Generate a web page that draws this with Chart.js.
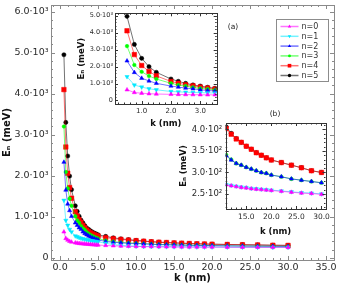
<!DOCTYPE html>
<html>
<head>
<meta charset="utf-8">
<script src="https://cdn.jsdelivr.net/npm/chart.js@4.4.1/dist/chart.umd.min.js"></script>
<style>
  html, body { margin: 0; padding: 0; background: #fff; }
  #wrap { position: relative; width: 349px; height: 287px; overflow: hidden; }
  #wrap canvas { position: absolute; }
</style>
</head>
<body>
<div id="wrap">
  <canvas id="mainChart" width="349" height="287" style="left:0;top:0"></canvas>
  <canvas id="insetA" width="152" height="126" style="left:70px;top:5px"></canvas>
  <canvas id="insetB" width="152" height="128" style="left:178px;top:110px"></canvas>
</div>
<script>
// wave number k (nm) shared by all series
const kValues = [0.5, 0.75, 1.0, 1.25, 1.5, 2.0, 2.25, 2.5, 2.75, 3.0, 3.25, 3.5, 3.75, 4.0, 4.25, 4.5, 4.75, 5.0,
    6, 7, 8, 9, 10, 11, 12, 13, 14, 15, 16, 17, 18, 19, 20, 22, 24, 26, 28, 30];

// E_n (meV) for each n
const energyN0 = [630, 470, 430, 400, 382, 362, 355, 348, 343, 338, 334, 330, 326, 322, 318, 314, 311, 308,
    298, 290, 283, 277, 274, 271, 269, 267, 265, 264, 262, 261, 260, 259, 258, 256, 254, 252, 251, 249];
const energyN1 = [1400, 910, 790, 690, 630, 530, 510, 490, 475, 462, 450, 440, 430, 420, 412, 404, 397, 390,
    350, 320, 300, 287, 278, 272, 270, 268, 266, 265, 263, 262, 261, 260, 259, 257, 255, 253, 252, 250];
const energyN2 = [2330, 1650, 1310, 1150, 1010, 850, 790, 730, 690, 630, 590, 560, 530, 505, 485, 465, 448, 435,
    395, 375, 362, 353, 346, 339, 329, 321, 317, 312, 308, 304, 300, 298, 294, 290, 285, 282, 279, 276];
const energyN3 = [3200, 2090, 1690, 1440, 1265, 1010, 910, 850, 775, 715, 675, 620, 585, 555, 530, 505, 485, 465,
    420, 392, 372, 359, 350, 341, 330, 321, 317, 312, 308, 304, 300, 298, 294, 290, 285, 282, 279, 276];
const energyN4 = [4100, 2700, 2060, 1710, 1450, 1120, 1020, 925, 865, 790, 730, 675, 640, 610, 585, 562, 543, 527,
    490, 465, 446, 430, 416, 402, 389, 378, 370, 361, 354, 346, 340, 334, 329, 323, 317, 311, 304, 300];
const energyN5 = [4950, 3300, 2480, 1990, 1660, 1265, 1130, 1010, 915, 850, 780, 720, 690, 655, 625, 600, 580, 560,
    520, 485, 460, 440, 422, 406, 391, 379, 370, 361, 354, 346, 340, 334, 329, 323, 317, 311, 304, 300];

const seriesNames = ['n=0', 'n=1', 'n=2', 'n=3', 'n=4', 'n=5'];
const seriesValues = [energyN0, energyN1, energyN2, energyN3, energyN4, energyN5];

// tick labels
const mainXTicks = [0, 5, 10, 15, 20, 25, 30, 35];
const mainYTicks = [0, 1000, 2000, 3000, 4000, 5000, 6000];
const insetAXTicks = [1, 2, 3];
const insetAYTicks = [0, 1000, 2000, 3000, 4000, 5000];
const insetBXTicks = [15, 20, 25, 30];
const insetBYTicks = [250, 300, 350, 400];

const FONT = '"DejaVu Sans", sans-serif';
const markerColors = ['#ff00ff', '#00e8ff', '#0000ff', '#00ff00', '#ff0000', '#000000'];
const lineColors = ['rgba(255,0,255,0.55)', 'rgba(0,232,255,0.55)', 'rgba(0,0,255,0.55)',
    'rgba(0,255,0,0.55)', 'rgba(255,0,0,0.55)', 'rgba(0,0,0,0.55)'];
const markerStyles = ['triangle', 'triangle', 'triangle', 'circle', 'rect', 'circle'];
const markerRotations = [0, 180, 0, 0, 0, 0];
const markerSizes = [2.4, 2.4, 2.4, 1.8, 3.2, 2.1];

const SUP = { 2: '²', 3: '³' };

function sciLabel(exp) {
    return v => v === 0 ? '0' : (v / Math.pow(10, exp)).toFixed(1) + '·10' + SUP[exp];
}

function buildDatasets() {
    return seriesValues.map((vals, i) => ({
        label: seriesNames[i],
        data: kValues.map((k, j) => ({ x: k, y: vals[j] })),
        borderColor: lineColors[i],
        borderWidth: 1,
        backgroundColor: markerColors[i],
        pointBackgroundColor: markerColors[i],
        pointBorderColor: markerColors[i],
        pointBorderWidth: 0.5,
        pointStyle: markerStyles[i],
        pointRotation: markerRotations[i],
        pointRadius: markerSizes[i],
        tension: 0
    }));
}

// inward ticks on all four sides + frame + white plot background
const frameTicks = {
    id: 'frameTicks',
    beforeDraw(chart) {
        const { ctx, chartArea: a } = chart;
        ctx.save();
        ctx.fillStyle = '#fff';
        ctx.fillRect(a.left, a.top, a.right - a.left, a.bottom - a.top);
        ctx.restore();
    },
    afterDraw(chart, args, opts) {
        const { ctx, chartArea: a, scales } = chart;
        const xs = scales.x, ys = scales.y;
        ctx.save();
        ctx.strokeStyle = opts.color;
        ctx.lineWidth = 1;
        ctx.beginPath();

        const stepValues = (scale, step) => {
            const out = [];
            const first = Math.ceil(scale.min / step - 1e-9);
            for (let i = first; i * step <= scale.max + 1e-9; i++) out.push(i * step);
            return out;
        };
        const xMarks = (vals, len) => vals.forEach(v => {
            const px = Math.round(xs.getPixelForValue(v)) + 0.5;
            ctx.moveTo(px, a.bottom); ctx.lineTo(px, a.bottom - len);
            ctx.moveTo(px, a.top); ctx.lineTo(px, a.top + len);
        });
        const yMarks = (vals, len) => vals.forEach(v => {
            const py = Math.round(ys.getPixelForValue(v)) + 0.5;
            ctx.moveTo(a.left, py); ctx.lineTo(a.left + len, py);
            ctx.moveTo(a.right, py); ctx.lineTo(a.right - len, py);
        });
        xMarks(stepValues(xs, opts.xMinor), opts.minorLen);
        yMarks(stepValues(ys, opts.yMinor), opts.minorLen);
        xMarks(xs.ticks.map(t => t.value), opts.majorLen);
        yMarks(ys.ticks.map(t => t.value), opts.majorLen);
        ctx.stroke();

        ctx.strokeRect(Math.round(a.left) + 0.5, Math.round(a.top) + 0.5,
            Math.round(a.right - a.left), Math.round(a.bottom - a.top));
        ctx.restore();
    }
};

// legend box and panel tags drawn on the main chart
const legendBox = {
    id: 'legendBox',
    afterDraw(chart) {
        const ctx = chart.ctx;
        ctx.save();
        ctx.fillStyle = '#fff';
        ctx.strokeStyle = '#8c8c8c';
        ctx.lineWidth = 1;
        ctx.fillRect(276.5, 19.5, 52, 62);
        ctx.strokeRect(276.5, 19.5, 52, 62);
        ctx.font = '8px ' + FONT;
        ctx.textBaseline = 'middle';
        seriesNames.forEach((name, i) => {
            const y = 26.5 + i * 9.8;
            ctx.strokeStyle = lineColors[i];
            ctx.lineWidth = 1.5;
            ctx.beginPath();
            ctx.moveTo(280.5, y); ctx.lineTo(298.5, y);
            ctx.stroke();
            ctx.fillStyle = markerColors[i];
            ctx.strokeStyle = markerColors[i];
            Chart.helpers.drawPoint(ctx, {
                pointStyle: markerStyles[i], rotation: markerRotations[i],
                radius: markerSizes[i] * 0.8, borderWidth: 0
            }, 289.5, y);
            ctx.fillStyle = '#333';
            ctx.fillText(name, 301.5, y + 0.5);
        });
        ctx.fillStyle = '#222';
        ctx.font = '7.5px ' + FONT;
        ctx.textAlign = 'center';
        ctx.fillText('(a)', 233, 27);
        ctx.fillText('(b)', 275, 114);
        ctx.restore();
    }
};

function linearAxis(cfg) {
    const isX = cfg.axis === 'x';
    return {
        type: 'linear',
        position: isX ? 'bottom' : 'left',
        min: cfg.min,
        max: cfg.max,
        grid: { display: false, drawTicks: false, tickLength: 0 },
        border: { display: false },
        afterBuildTicks: scale => { scale.ticks = cfg.ticks.map(v => ({ value: v })); },
        afterFit: scale => {
            if (isX) scale.height = cfg.size; else scale.width = cfg.size;
            scale.paddingLeft = scale.paddingRight = scale.paddingTop = scale.paddingBottom = 0;
        },
        ticks: {
            autoSkip: false,
            maxRotation: 0,
            padding: cfg.tickPad,
            color: '#2a2a2a',
            font: { family: FONT, size: cfg.tickSize },
            callback: cfg.format
        },
        title: {
            display: true,
            text: cfg.title,
            color: '#111',
            padding: cfg.titlePad,
            font: { family: FONT, size: cfg.titleSize, weight: 'bold' }
        }
    };
}

function makeChart(id, pad, xCfg, yCfg, tickOpts, extraPlugins) {
    return new Chart(document.getElementById(id), {
        type: 'line',
        data: { datasets: buildDatasets() },
        options: {
            responsive: false,
            animation: false,
            devicePixelRatio: 1,
            layout: { padding: pad },
            plugins: {
                legend: { display: false },
                tooltip: { enabled: false },
                frameTicks: tickOpts
            },
            scales: {
                x: linearAxis(Object.assign({ axis: 'x' }, xCfg)),
                y: linearAxis(Object.assign({ axis: 'y' }, yCfg))
            }
        },
        plugins: [frameTicks].concat(extraPlugins || [])
    });
}

const xFmt = v => v.toFixed(1);

makeChart('mainChart', { top: 5, right: 15, left: 0, bottom: 0 },
    { min: -1.2, max: 36.05, ticks: mainXTicks, format: xFmt, tickSize: 9.5, tickPad: 1.5,
      title: 'k (nm)', titleSize: 10, titlePad: { bottom: 3 }, size: 27 },
    { min: -56, max: 6163, ticks: mainYTicks, format: sciLabel(3), tickSize: 9.5, tickPad: 2.5,
      title: 'Eₙ (meV)', titleSize: 10, titlePad: { top: 1 }, size: 51 },
    { color: '#8a8a8a', majorLen: 4, minorLen: 2, xMinor: 1, yMinor: 200 },
    [legendBox]);

makeChart('insetA', { top: 8.3, right: 5.3, left: 0, bottom: 0 },
    { min: 0.09, max: 3.56, ticks: insetAXTicks, format: xFmt, tickSize: 7, tickPad: 3,
      title: 'k (nm)', titleSize: 8.5, titlePad: { bottom: 2.5 }, size: 27 },
    { min: -206, max: 5130, ticks: insetAYTicks, format: sciLabel(3), tickSize: 6.5, tickPad: 2,
      title: 'Eₙ (meV)', titleSize: 8.5, titlePad: { top: 6.5 }, size: 45 },
    { color: '#333', majorLen: 3, minorLen: 1.5, xMinor: 0.2, yMinor: 200 });

makeChart('insetB', { top: 13, right: 4.3, left: 0, bottom: 0 },
    { min: 10.9, max: 30.8, ticks: insetBXTicks, format: xFmt, tickSize: 7.5, tickPad: 4,
      title: 'k (nm)', titleSize: 8.5, titlePad: { bottom: 1.2 }, size: 29 },
    { min: 215, max: 415, ticks: insetBYTicks, format: sciLabel(2), tickSize: 8.5, tickPad: 3.5,
      title: 'Eₙ (meV)', titleSize: 8.5, titlePad: { top: 0.4 }, size: 47.7 },
    { color: '#333', majorLen: 3, minorLen: 1.5, xMinor: 1, yMinor: 10 });
</script>
</body>
</html>
